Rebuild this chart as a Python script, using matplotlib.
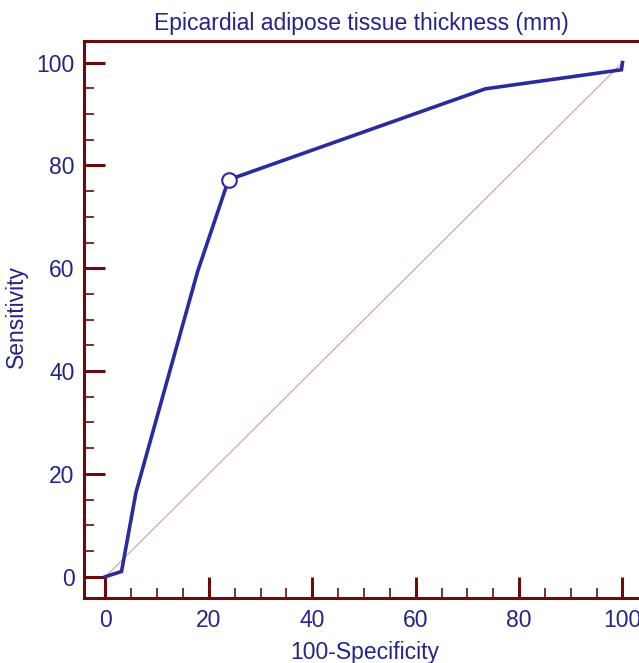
import matplotlib
matplotlib.use("Agg")
import matplotlib.pyplot as plt
from matplotlib.ticker import MultipleLocator

# ROC curve data (100-Specificity, Sensitivity)
fpr = [0, 3.1, 5.9, 17.8, 23.8, 73.5, 99.8, 100]
tpr = [0, 1.0, 16.4, 59.3, 77.2, 94.9, 98.6, 100]
cut_fpr = [23.8]
cut_tpr = [77.2]
diag = [0, 100]
xticks = [0, 20, 40, 60, 80, 100]
yticks = [0, 20, 40, 60, 80, 100]

title = "Epicardial adipose tissue thickness (mm)"
xlabel = "100-Specificity"
ylabel = "Sensitivity"

plt.rcParams['font.family'] = ['Liberation Sans', 'DejaVu Sans']
navy_text = "#24248a"
line_col = "#2b2b9e"
spine_col = "#6a0c0c"
diag_col = "#cf9d9d"

W, H = 639, 663
fig = plt.figure(figsize=(W / 100, H / 100), dpi=100)
left, right, top, bottom = 84.3, 639, 41, 597.7
ax = fig.add_axes([left / W, 1 - bottom / H, (right - left) / W, (bottom - top) / H])

ax.plot(diag, diag, color=diag_col, lw=0.8, zorder=2)
ax.plot(fpr, tpr, color=line_col, lw=2.6, solid_joinstyle='miter', zorder=3)
ax.plot(cut_fpr, cut_tpr, 'o', ms=10.5, mfc='white', mec=line_col, mew=1.5, zorder=4)

ax.set_xlim(-4.1, 103.2)
ax.set_ylim(-4.1, 104.2)

for s in ['left', 'bottom', 'top']:
    ax.spines[s].set_color(spine_col)
    ax.spines[s].set_linewidth(2.2)
ax.spines['right'].set_visible(False)

ax.set_xticks(xticks)
ax.set_yticks(yticks)
ax.xaxis.set_minor_locator(MultipleLocator(5))
ax.yaxis.set_minor_locator(MultipleLocator(5))
ax.tick_params(which='major', direction='in', length=14.8, width=2.2, color=spine_col,
               labelsize=16.5, labelcolor=navy_text)
ax.tick_params(which='minor', direction='in', length=7.2, width=1.2, color=spine_col)
ax.tick_params(axis='y', which='both', left=True, right=False, pad=7)
ax.tick_params(axis='x', which='both', bottom=True, top=False, pad=8)

ax.set_title(title, fontsize=16.5, color=navy_text, pad=8)
ax.set_xlabel(xlabel, fontsize=16.5, color=navy_text, va='center')
ax.set_ylabel(ylabel, fontsize=16.5, color=navy_text, va='center')
ax.xaxis.set_label_coords((365 - left) / (right - left), -(652 - bottom) / (bottom - top))
ax.yaxis.set_label_coords((16 - left) / (right - left), (bottom - 316) / (bottom - top))

fig.savefig("out.png", dpi=100)
